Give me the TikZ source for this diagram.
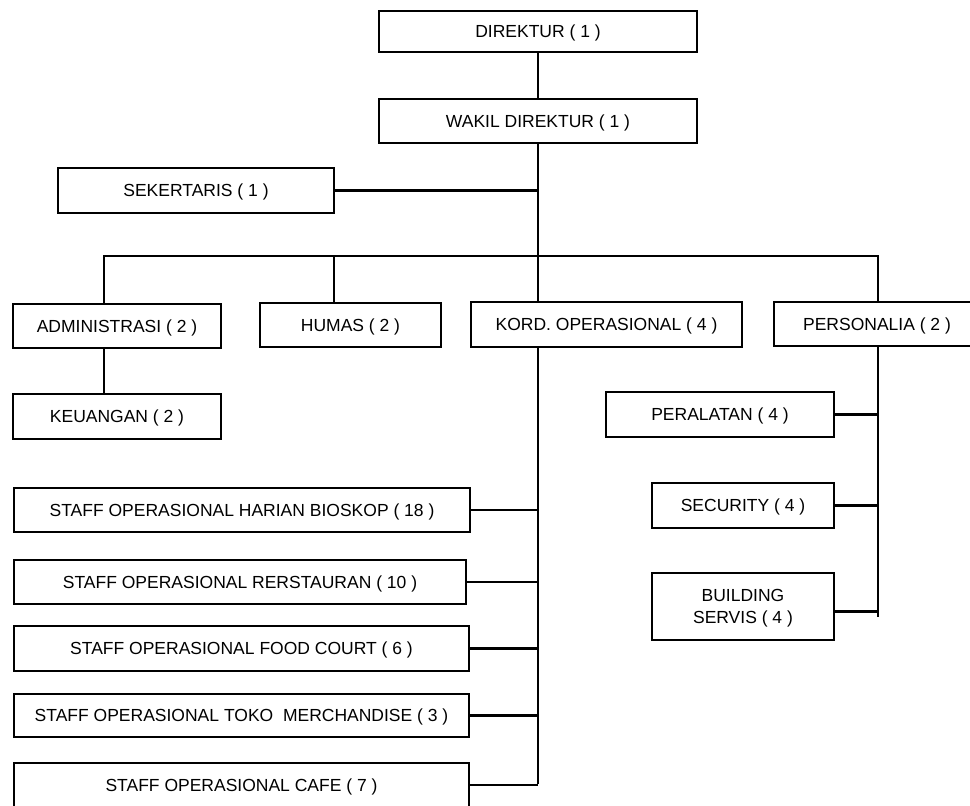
\documentclass[tikz,border=0pt]{standalone}
\usepackage{fontspec}
\setmainfont{Liberation Sans}
\tikzset{
  box/.style={draw, line width=2.6pt, inner sep=0pt, align=center, text depth=0pt,
    font=\fontsize{17.5}{22}\selectfont},
  link/.style={line width=2.6pt}
}
\begin{document}
\begin{tikzpicture}[x=1pt, y=-1pt]
      \useasboundingbox (0,0) rectangle (970,806);

      % Pimpinan
      \node[box, minimum width=318pt, minimum height=41pt] (dir) at (538,31.5) {DIREKTUR ( 1 )};
      \node[box, minimum width=318pt, minimum height=44pt] (wakil) at (538,121) {WAKIL DIREKTUR ( 1 )};
      \node[box, minimum width=276pt, minimum height=45pt] (sek) at (196,190.5) {SEKERTARIS ( 1 )};

      % Bagian
      \node[box, minimum width=208pt, minimum height=44pt] (admin) at (117,326) {ADMINISTRASI ( 2 )};
      \node[box, minimum width=181pt, minimum height=44pt] (humas) at (350.5,325) {HUMAS ( 2 )};
      \node[box, minimum width=271pt, minimum height=45pt] (kord) at (606.5,324.5) {KORD. OPERASIONAL ( 4 )};
      \node[box, minimum width=206pt, minimum height=44pt] (pers) at (877,324) {PERSONALIA ( 2 )};
      \node[box, minimum width=208pt, minimum height=45pt] (keu) at (117,416.5) {KEUANGAN ( 2 )};

      % Bawah personalia
      \node[box, minimum width=228pt, minimum height=45pt] (alat) at (720,414.5) {PERALATAN ( 4 )};
      \node[box, minimum width=182pt, minimum height=45pt] (secu) at (743,505.5) {SECURITY ( 4 )};
      \node[box, minimum width=182pt, minimum height=67pt] (build) at (743,606.5) {BUILDING\\SERVIS ( 4 )};

      % Staff operasional
      \node[box, minimum width=456pt, minimum height=44pt] (st1) at (242,510) {STAFF OPERASIONAL HARIAN BIOSKOP ( 18 )};
      \node[box, minimum width=452pt, minimum height=44pt] (st2) at (240,582) {STAFF OPERASIONAL RERSTAURAN ( 10 )};
      \node[box, minimum width=455pt, minimum height=45pt] (st3) at (241.5,648.5) {STAFF OPERASIONAL FOOD COURT ( 6 )};
      \node[box, minimum width=455pt, minimum height=43pt] (st4) at (241.5,715.5) {STAFF OPERASIONAL TOKO~ MERCHANDISE ( 3 )};
      \node[box, minimum width=455pt, minimum height=44pt] (st5) at (241.5,785) {STAFF OPERASIONAL CAFE ( 7 )};

      % Garis
      \coordinate (busA) at (104,256);
      \coordinate (busH) at (334,256);
      \coordinate (busP) at (878,256);
      \coordinate (kordEnd) at (538,784);
      \coordinate (persEnd) at (878,617);

      \draw[link] (dir) -- (wakil);
      \draw[link] (wakil.south) -- (wakil.south |- busA);
      \draw[link] (sek.east) -- (sek.east -| wakil.south);
      \draw[link] (busA |- admin.north) -- (busA) -- (busP) -- (busP |- pers.north);
      \draw[link] (busH) -- (busH |- humas.north);
      \draw[link] (wakil.south |- busA) -- (wakil.south |- kord.north);
      \draw[link] (busA |- admin.south) -- (busA |- keu.north);

      \draw[link] (kordEnd |- kord.south) -- (kordEnd);
      \foreach \s in {st1,st2,st3,st4,st5}
        \draw[link] (\s.east) -- (\s.east -| kordEnd);

      \draw[link] (persEnd |- pers.south) -- (persEnd);
      \draw[link] (alat.east) -- (alat.east -| persEnd);
      \draw[link] (secu.east) -- (secu.east -| persEnd);
      \draw[link] (build.south east) ++(0,-30) coordinate (bA) -- (bA -| persEnd);
\end{tikzpicture}
\end{document}
